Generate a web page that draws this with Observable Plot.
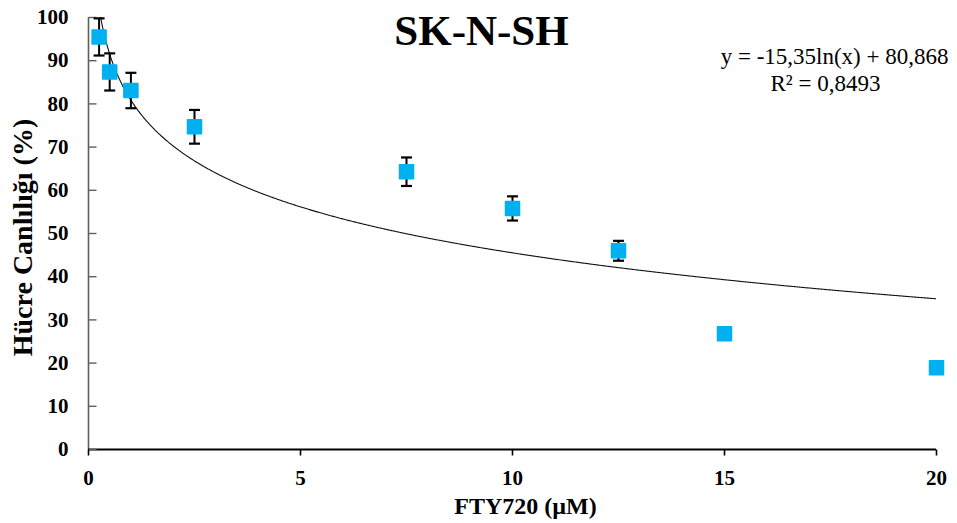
<!DOCTYPE html>
<html>
<head>
<meta charset="utf-8">
<script src="https://cdn.jsdelivr.net/npm/d3@7"></script>
<script src="https://cdn.jsdelivr.net/npm/@observablehq/plot@0.6"></script>
<style>
  html, body { margin: 0; padding: 0; background: #ffffff; }
  #chart { width: 957px; height: 523px; }
</style>
</head>
<body>
<div id="chart"></div>
<script>
// ---- data ----
const concentration = [0.25, 0.5, 1, 2.5, 7.5, 10, 12.5, 15, 20];          // FTY720 (µM)
const viability     = [95.5, 87.4, 83.1, 74.7, 64.3, 55.8, 46.0, 26.8, 18.9]; // Hücre canlılığı (%)
const errorBar      = [4.3, 4.3, 4.1, 3.9, 3.3, 2.8, 2.3, 0, 0];
const xTicks = [0, 5, 10, 15, 20];
const yTicks = [0, 10, 20, 30, 40, 50, 60, 70, 80, 90, 100];
const trendSlope = -15.35;      // y = -15,35 ln(x) + 80,868
const trendIntercept = 80.868;
const titleText = "SK-N-SH";
const xLabel = "FTY720 (µM)";
const yLabel = "Hücre Canlılığı (%)";
const equationLines = ["y = -15,35ln(x) + 80,868", "R² = 0,8493"];

// ---- tables built from the arrays ----
const points = concentration.map((c, i) => ({x: c, y: viability[i], e: errorBar[i]}));
const withErr = points.filter(d => d.e > 0);
const trendX = d3.range(0.25, 20.0001, 0.02);
const trend = trendX.map(x => ({x, y: trendSlope * Math.log(x) + trendIntercept}));

// custom symbols
const capSym = {draw(ctx) { ctx.moveTo(-5.5, 0); ctx.lineTo(5.5, 0); }};
const yTickSym = {draw(ctx) { ctx.moveTo(0, 0); ctx.lineTo(8, 0); }};
const xTickSym = {draw(ctx) { ctx.moveTo(0, 0); ctx.lineTo(0, 6); }};

const serif = "'Liberation Serif', 'Times New Roman', serif";

const chart = Plot.plot({
  width: 957,
  height: 523,
  marginLeft: 88,
  marginRight: 21,
  marginTop: 17,
  marginBottom: 74,
  style: {background: "#ffffff", fontFamily: serif, overflow: "visible"},
  x: {domain: [0, 20]},
  y: {domain: [0, 100]},
  marks: [
    // axes lines
    Plot.ruleX([0], {stroke: "#5f5f5f", strokeWidth: 1.6}),
    Plot.ruleY([0], {stroke: "#000000", strokeWidth: 1.8}),
    // ticks
    Plot.dot(yTicks, {x: () => 0, y: d => d, symbol: yTickSym, fill: "none", stroke: "#5f5f5f", strokeWidth: 1.4}),
    Plot.dot(xTicks, {x: d => d, y: () => 0, symbol: xTickSym, fill: "none", stroke: "#000000", strokeWidth: 1.6}),
    // tick labels
    Plot.axisY({ticks: yTicks, tickSize: 0, tickPadding: 20, label: null, fontSize: 21, fontWeight: "bold", fill: "#000", fontFamily: serif, style: "letter-spacing: 1.5px"}),
    Plot.axisX({ticks: xTicks, tickSize: 0, tickPadding: 21, label: null, fontSize: 21, fontWeight: "bold", fill: "#000", fontFamily: serif, style: "letter-spacing: 1.5px"}),
    // trend line
    Plot.line(trend, {x: "x", y: "y", stroke: "#111", strokeWidth: 1.1, clip: true}),
    // error bars
    Plot.ruleX(withErr, {x: "x", y1: d => d.y - d.e, y2: d => d.y + d.e, stroke: "#000", strokeWidth: 2}),
    Plot.dot(withErr, {x: "x", y: d => d.y + d.e, symbol: capSym, fill: "none", stroke: "#000", strokeWidth: 2.2}),
    Plot.dot(withErr, {x: "x", y: d => d.y - d.e, symbol: capSym, fill: "none", stroke: "#000", strokeWidth: 2.2}),
    // markers
    Plot.dot(points, {x: "x", y: "y", symbol: "square", r: 7.9, fill: "#00B0F0", stroke: "#00B0F0", strokeWidth: 1.5, strokeLinejoin: "round"}),
    // title
    Plot.text([titleText], {frameAnchor: "top", dx: -31, dy: 27, lineAnchor: "bottom", fontSize: 43, fontWeight: "bold", fill: "#000", fontFamily: serif}),
    // equation
    Plot.text([equationLines[0]], {frameAnchor: "top-right", dx: 12, dy: 46, lineAnchor: "bottom", textAnchor: "end", fontSize: 23, fill: "#000", fontFamily: serif, style: "letter-spacing: 2.4px"}),
    Plot.text([equationLines[1]], {frameAnchor: "top-right", dx: -111, dy: 73, lineAnchor: "bottom", textAnchor: "middle", fontSize: 23, fill: "#000", fontFamily: serif, style: "letter-spacing: 2.4px"}),
    // axis labels
    Plot.text([xLabel], {frameAnchor: "bottom", dx: 13, dy: 64, lineAnchor: "bottom", fontSize: 24, fontWeight: "bold", fill: "#000", fontFamily: serif}),
    Plot.text([yLabel], {frameAnchor: "left", dx: -65, dy: 4, rotate: -90, textAnchor: "middle", lineAnchor: "middle", fontSize: 28, fontWeight: "bold", fill: "#000", fontFamily: serif})
  ]
});

document.getElementById("chart").appendChild(chart);
</script>
</body>
</html>
